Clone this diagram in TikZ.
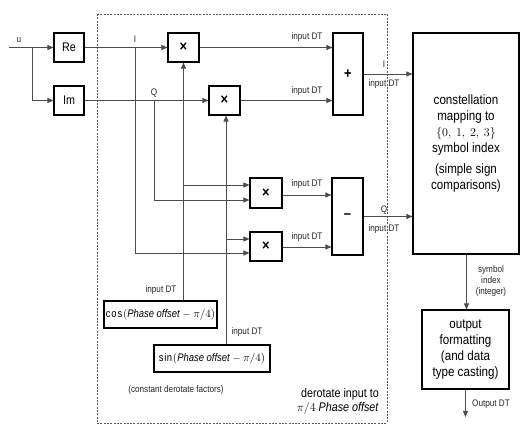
\documentclass[tikz,border=0pt]{standalone}
\usepackage{fontspec}
\setmainfont{Liberation Sans}[FakeStretch=0.86]
\usetikzlibrary{arrows.meta}
\begin{document}
\begin{tikzpicture}[x=1pt,y=-1pt,
  box/.style={draw=black, line width=1.1pt, inner sep=0pt, fill=white, align=center},
  conn/.style={draw=black!70, line width=0.8pt},
  arr/.style={conn, -{Triangle[length=6pt,width=5pt]}},
  lab/.style={font=\fontsize{9.5}{11}\selectfont, inner sep=1pt, text=black!85},
  mid/.style={font=\fontsize{12.5}{14}\selectfont},
  big/.style={font=\fontsize{13.5}{16}\selectfont},
  op/.style={font=\bfseries\fontsize{15}{15}\selectfont}]
\useasboundingbox (0,0) rectangle (531,435);

% derotate region
\draw[black!65, line width=0.8pt, dash pattern=on 2pt off 1.3pt] (97,14) rectangle (387,423);

% blocks
\node[box, mid, minimum width=30pt, minimum height=29pt] (Re) at (69,47.5) {Re};
\node[box, mid, minimum width=30pt, minimum height=29pt] (Im) at (69,100.5) {Im};
\node[box, op, minimum width=31pt, minimum height=29pt] (mulI) at (183.5,47.5) {×};
\node[box, op, minimum width=31pt, minimum height=29pt] (mulQ) at (224.5,100.5) {×};
\node[box, op, minimum width=32pt, minimum height=30pt] (mul3) at (266,193) {×};
\node[box, op, minimum width=32pt, minimum height=29pt] (mul4) at (266,246.5) {×};
\node[box, op, minimum width=30pt, minimum height=82pt] (plus) at (348,74) {+};
\node[box, op, minimum width=31pt, minimum height=77pt] (minus) at (347.5,216.5) {–};
\node[box, minimum width=106pt, minimum height=221pt] (const) at (466,143.5) {};
\node[big, align=center] (consttxt) at (466,144) {constellation\\mapping to\\{\fontsize{11.5}{16}\selectfont$\{0,\ 1,\ 2,\ 3\}$}\\symbol index\\[5pt](simple sign\\comparisons)};
\node[box, big, minimum width=87pt, minimum height=79pt] (outb) at (465.5,349.5) {output\\formatting\\(and data\\type casting)};
\node[box, minimum width=113pt, minimum height=27pt, font=\fontsize{11}{12}\selectfont] (cos) at (160.5,314.5) {$\cos(\textit{Phase offset}-\pi/4)$};
\node[box, minimum width=116pt, minimum height=27pt, font=\fontsize{11}{12}\selectfont] (sin) at (212,358.5) {$\sin(\textit{Phase offset}-\pi/4)$};

% coordinates
\coordinate (uin) at (9,47.5);
\coordinate (ubr) at (32,47.5);
\coordinate (Itap) at (135,47.5);
\coordinate (Qtap) at (154,100.5);
\coordinate (c3a) at ([yshift=8pt]mul3.west);
\coordinate (c3b) at ([yshift=-7pt]mul3.west);
\coordinate (c4a) at ([yshift=7.5pt]mul4.west);
\coordinate (c4b) at ([yshift=-6.5pt]mul4.west);
\coordinate (m3in) at ([yshift=-2pt]mul3.east -| minus.west);
\coordinate (m4in) at ([yshift=-0.5pt]mul4.east -| minus.west);
\coordinate (out) at (465.5,417);

% connectors
\draw[arr] (uin) -- (Re.west);
\draw[arr] (ubr) |- (Im.west);
\draw[arr] (Re.east) -- (mulI.west);
\draw[arr] (Im.east) -- (mulQ.west);
\draw[arr] (Itap) |- (c4b);
\draw[arr] (Qtap) |- (c3b);
\draw[arr] (mulI.south |- cos.north) -- (mulI.south);
\draw[arr] (mulI.south |- c3a) -- (c3a);
\draw[arr] ([xshift=1.5pt]mulQ.south |- sin.north) -- ([xshift=1.5pt]mulQ.south);
\draw[arr] ([xshift=1.5pt]mulQ.south |- c4a) -- (c4a);
\draw[arr] (mulI.east) -- (mulI.east -| plus.west);
\draw[arr] (mulQ.east) -- (mulQ.east -| plus.west);
\draw[arr] ([yshift=-2pt]mul3.east) -- (m3in);
\draw[arr] ([yshift=-0.5pt]mul4.east) -- (m4in);
\draw[arr] (plus.east) -- (plus.east -| const.west);
\draw[arr] (minus.east) -- (minus.east -| const.west);
\draw[arr] ([xshift=0.5pt]const.south) -- ([xshift=0.5pt]const.south |- outb.north);
\draw[arr] (outb.south) -- (out);

% labels
\node[lab] (lu) at (19,40) {u};
\node[lab] (lI) at (135,39) {I};
\node[lab] (lQ) at (154,93) {Q};
\node[lab] (l1) at (307,37) {input DT};
\node[lab] (l2) at (307,91) {input DT};
\node[lab] (l3) at (307,184) {input DT};
\node[lab] (l4) at (307,237) {input DT};
\node[lab] (lIo) at (384,64) {I};
\node[lab] (lIo2) at (384,84) {input DT};
\node[lab] (lQo) at (384,210) {Q};
\node[lab] (lQo2) at (384,229) {input DT};
\node[lab] (lcos) at (161,290) {input DT};
\node[lab] (lsin) at (247,332) {input DT};
\node[lab] (lconst) at (176,390) {(constant derotate factors)};
\node[mid, anchor=east, align=right, inner sep=0pt] (lder) at (379,401) {derotate input to\\$\pi/4$ \textit{Phase offset}};
\node[lab, align=center] (lsym) at (491,281) {symbol\\index\\(integer)};
\node[lab, anchor=west] (lout) at (471,404) {Output DT};
\end{tikzpicture}
\end{document}
